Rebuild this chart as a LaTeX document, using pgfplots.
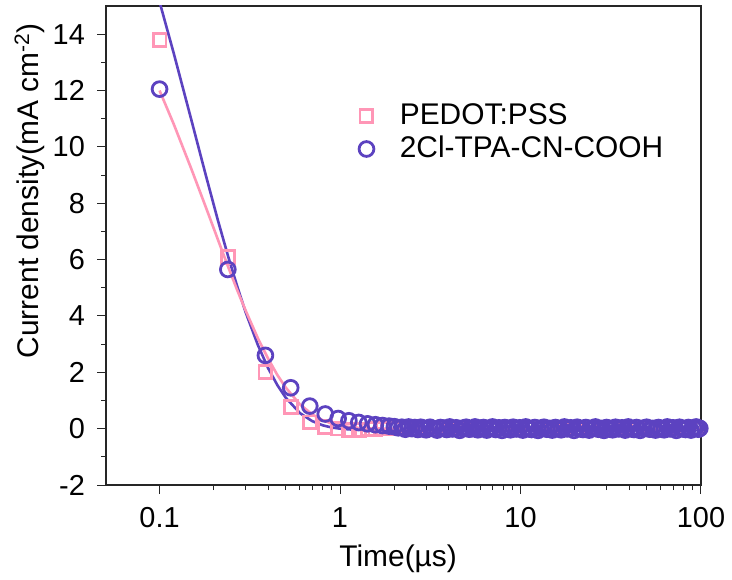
\documentclass[border=0pt]{standalone}
\usepackage{fontspec}
\setmainfont{Liberation Sans}
\usepackage{pgfplots}
\pgfplotsset{compat=1.18}
\definecolor{pinkc}{RGB}{255,150,182}
\definecolor{purpc}{RGB}{92,66,192}
\begin{document}
\fontsize{30}{36}\selectfont
\begin{tikzpicture}
\begin{axis}[
  xmode=log,
  scale only axis,
  width=595bp, height=479bp,
  xmin=0.0505, xmax=100,
  ymin=-2, ymax=15,
  xtick={0.1,1,10,100},
  xticklabels={0.1,1,10,100},
  ytick={-2,0,2,4,6,8,10,12,14},
  minor y tick num=1,
  /pgf/number format/assume math mode=true,
  tick label style={font=\fontsize{29}{34}\selectfont},
  xticklabel style={yshift=-3bp},
  yticklabel style={xshift=-2bp},
  label style={font=\fontsize{30}{36}\selectfont},
  tick align=outside,
  xtick pos=bottom, ytick pos=left,
  major tick length=9bp, minor tick length=5bp,
  every tick/.style={black!85, line width=1bp},
  axis line style={black!85, line width=1.2bp},
  xlabel={Time(µs)},
  ylabel={Current density(mA cm\textsuperscript{-2})},
  xlabel style={at={(axis description cs:0.491,-0.171)}, anchor=base, inner sep=0pt},
  ylabel style={at={(axis description cs:-0.114,0.614)}, anchor=base, inner sep=0pt},
  legend style={draw=none, fill=none, at={(axis description cs:0.42,0.805)}, anchor=north west,
    font=\fontsize{30}{36}\selectfont, row sep=3bp, column sep=24bp},
  legend cell align=left,
]
\coordinate (sw) at (rel axis cs:0,0);
\coordinate (ne) at (rel axis cs:1,1);
\addplot[only marks, mark=square, mark size=6.4bp, color=pinkc, line width=2.8bp] coordinates {
(0.1,13.8) (0.239,6.1) (0.386,2.0) (0.533,0.76) (0.68,0.22) (0.828,0.05) (0.976,0.0)
(1.12,-0.05) (1.27,-0.05) (1.42,-0.03) (1.57,-0.02) (1.72,0.0) (1.87,0.01)
(2.0,0.0) (2.3,0.02) (2.6,-0.01) (3.0,0.01) (3.45,0.0) (4.0,-0.02) (4.6,0.01) (5.2,0.0)
(6.0,0.02) (7.0,-0.01) (8.2,0.0) (9.5,0.01) (11,0.0) (13,-0.01) (15,0.01) (17.5,0.0)
(20.6,0.0) (24,0.01) (28,-0.01) (32.4,0.0) (38,0.01) (44,0.0) (52,-0.01) (60,0.0)
(70,0.01) (82,0.0) (94,0.0)
};
\addlegendentry{PEDOT:PSS}
\addplot[only marks, mark=o, mark size=7.4bp, color=purpc, line width=2.8bp] coordinates {
(0.1,12.05) (0.239,5.65) (0.386,2.6) (0.533,1.45) (0.68,0.8) (0.828,0.52) (0.976,0.36)
(1.12,0.28) (1.27,0.22) (1.42,0.17) (1.57,0.14) (1.72,0.11) (1.87,0.09)
(2.0,0.07) (2.1,0.03) (2.2,0.05) (2.3,-0.02) (2.4,0.06) (2.5,0.0) (2.6,0.04) (2.7,-0.03)
(2.8,0.05) (2.9,0.01) (3.0,-0.04) (3.15,0.05) (3.3,0.0) (3.45,-0.05) (3.6,0.04) (3.75,0.02)
(3.9,-0.03) (4.05,0.06) (4.2,-0.01) (4.4,0.03) (4.6,-0.06) (4.8,0.02) (5.0,0.05) (5.2,-0.02)
(5.4,0.0) (5.6,0.06) (5.8,-0.04) (6.0,0.02) (6.25,0.04) (6.5,-0.05) (6.75,0.01) (7.0,0.06)
(7.3,-0.03) (7.6,0.03) (7.9,-0.06) (8.2,0.04) (8.5,0.0) (8.8,-0.04) (9.1,0.05) (9.5,-0.01)
(9.9,0.03) (10.3,-0.05) (10.7,0.06) (11.1,0.0) (11.5,-0.03) (12,0.04) (12.5,-0.06) (13,0.02)
(13.5,0.05) (14,-0.02) (14.5,0.01) (15,-0.05) (15.6,0.04) (16.2,0.0) (16.8,-0.04) (17.5,0.06)
(18.2,-0.01) (19,0.03) (19.8,-0.06) (20.6,0.05) (21.4,0.0) (22.2,-0.03) (23,0.04) (24,-0.05)
(25,0.02) (26,0.06) (27,-0.02) (28,0.01) (29,-0.06) (30,0.04) (31.2,0.0) (32.4,-0.04)
(33.6,0.05) (35,-0.01) (36.5,0.03) (38,-0.05) (39.5,0.06) (41,0.0) (42.5,-0.03) (44,0.04)
(46,-0.06) (48,0.02) (50,0.05) (52,-0.02) (54,0.01) (56,-0.05) (58,0.04) (60,0.0)
(62.5,-0.04) (65,0.06) (67.5,-0.01) (70,0.03) (73,-0.06) (76,0.05) (79,0.0) (82,-0.03)
(85,0.04) (88,-0.05) (91,0.02) (94,0.06) (96.5,-0.02) (98.5,0.01)
};
\addlegendentry{2Cl-TPA-CN-COOH}
\addplot[forget plot, no marks, color=purpc, line width=2.6bp] coordinates {
(0.1,15.15) (0.12,13.31) (0.15,10.96) (0.18,9.02) (0.21,7.42) (0.24,6.11) (0.27,5.03)
(0.3,4.13) (0.35,2.98) (0.4,2.14) (0.45,1.54) (0.5,1.10) (0.6,0.55) (0.7,0.27)
(0.8,0.12) (0.9,0.04) (1.0,0.0) (1.2,-0.04) (1.5,-0.05) (2,-0.05) (5,-0.05) (100,-0.05)
};
\addplot[forget plot, no marks, color=pinkc, line width=2.6bp] coordinates {
(0.1,12.0) (0.12,10.8) (0.15,9.22) (0.18,7.88) (0.21,6.73) (0.24,5.74) (0.27,4.90)
(0.3,4.19) (0.35,3.22) (0.4,2.48) (0.45,1.90) (0.5,1.46) (0.6,0.86) (0.7,0.51)
(0.8,0.30) (0.9,0.18) (1.0,0.105) (1.2,0.037) (1.4,0.013) (1.7,0.003) (2,0.0) (100,0.0)
};
\end{axis}
\pgfresetboundingbox
\path ([shift={(-106bp,-95bp)}]sw) rectangle ([shift={(31bp,6bp)}]ne);
\end{tikzpicture}
\end{document}
